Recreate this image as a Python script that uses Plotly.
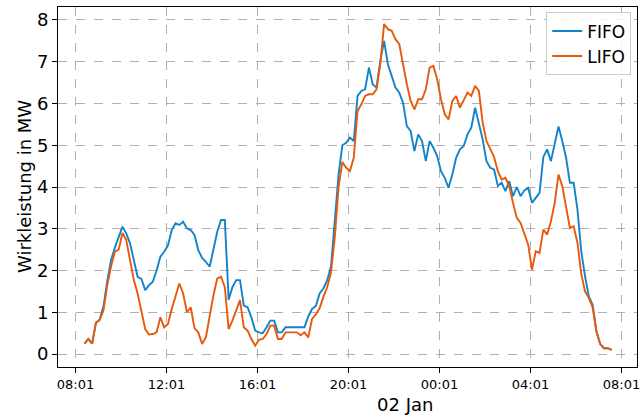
import pandas as pd
import plotly.graph_objects as go

start_time = "2024-01-01 08:25"
step_minutes = 10

fifo = [0.25, 0.36, 0.25, 0.75, 0.82, 1.15, 1.75, 2.25, 2.55, 2.8,
        3.05, 2.89, 2.65, 2.25, 1.85, 1.8, 1.53, 1.65, 1.73, 2.0,
        2.33, 2.45, 2.6, 2.97, 3.13, 3.09, 3.17, 3.01, 2.97, 2.85,
        2.49, 2.3, 2.21, 2.09, 2.49, 2.93, 3.21, 3.21, 1.3, 1.6,
        1.77, 1.77, 1.16, 1.12, 0.88, 0.56, 0.52, 0.5, 0.64, 0.8,
        0.8, 0.52, 0.52, 0.64, 0.64, 0.64, 0.64, 0.64, 0.64, 0.9,
        1.08, 1.15, 1.45, 1.57, 1.77, 2.1, 3.2, 4.3, 5.0, 5.06,
        5.18, 5.1, 6.18, 6.3, 6.34, 6.86, 6.46, 6.38, 7.02, 7.5,
        6.94, 6.66, 6.38, 6.26, 6.02, 5.46, 5.34, 4.86, 5.26, 5.1,
        4.62, 5.1, 4.94, 4.74, 4.38, 4.22, 3.98, 4.3, 4.7, 4.9,
        4.98, 5.26, 5.42, 5.9, 5.5, 5.14, 4.62, 4.46, 4.42, 4.03,
        4.1, 3.9, 4.14, 3.78, 4.0, 3.78, 3.92, 3.98, 3.62, 3.74,
        3.86, 4.72, 4.9, 4.62, 5.0, 5.45, 5.1, 4.7, 4.1, 4.1,
        3.46, 2.46, 1.86, 1.38, 1.18, 0.54, 0.24, 0.14, 0.14, 0.1]

lifo = [0.25, 0.36, 0.25, 0.75, 0.82, 1.05, 1.65, 2.1, 2.45, 2.5,
        2.9, 2.73, 2.25, 1.77, 1.45, 1.0, 0.6, 0.47, 0.48, 0.52,
        0.88, 0.64, 0.72, 1.08, 1.37, 1.69, 1.45, 1.0, 1.12, 0.62,
        0.52, 0.24, 0.4, 0.96, 1.41, 1.81, 1.85, 1.6, 0.6, 0.8,
        1.04, 1.29, 0.64, 0.56, 0.36, 0.2, 0.34, 0.36, 0.48, 0.68,
        0.68, 0.36, 0.36, 0.52, 0.52, 0.52, 0.52, 0.45, 0.52, 0.4,
        0.84, 0.95, 1.1, 1.37, 1.6, 1.95, 2.8, 4.0, 4.6, 4.46,
        4.38, 4.7, 5.82, 5.98, 6.18, 6.22, 6.22, 6.34, 6.94, 7.9,
        7.78, 7.74, 7.54, 7.42, 6.9, 6.46, 6.06, 5.86, 6.1, 6.1,
        6.34, 6.86, 6.9, 6.58, 6.1, 5.74, 5.62, 6.06, 6.18, 5.9,
        6.08, 6.26, 6.18, 6.42, 6.3, 5.54, 5.1, 4.9, 4.72, 4.38,
        4.18, 4.22, 4.02, 3.62, 3.26, 3.14, 2.86, 2.62, 2.02, 2.46,
        2.42, 2.98, 2.86, 3.18, 3.62, 4.3, 4.02, 3.54, 3.02, 3.06,
        2.66, 1.92, 1.5, 1.34, 1.12, 0.54, 0.24, 0.14, 0.14, 0.1]

tick_vals = ["2024-01-01 08:01", "2024-01-01 12:01", "2024-01-01 16:01",
             "2024-01-01 20:01", "2024-01-02 00:01", "2024-01-02 04:01",
             "2024-01-02 08:01"]
tick_text = ["08:01", "12:01", "16:01", "20:01", "00:01", "04:01", "08:01"]
y_ticks = [0, 1, 2, 3, 4, 5, 6, 7, 8]
x_title = "02 Jan"
y_title = "Wirkleistung in MW"

times = pd.date_range(start_time, periods=len(fifo), freq=f"{step_minutes}min")

font_family = "DejaVu Sans"
fig = go.Figure()
fig.add_trace(go.Scatter(x=times, y=fifo, mode="lines", name="FIFO",
                         line=dict(color="#1184c9", width=1.9)))
fig.add_trace(go.Scatter(x=times, y=lifo, mode="lines", name="LIFO",
                         line=dict(color="#e8590c", width=1.9)))

fig.update_layout(
    width=644, height=419,
    margin=dict(l=58, r=7, t=7, b=52),
    paper_bgcolor="white", plot_bgcolor="white",
    font=dict(family=font_family, color="black"),
    showlegend=True,
    legend=dict(x=0.99, y=0.985, xanchor="right", yanchor="top",
                bgcolor="rgba(255,255,255,0.85)", bordercolor="#cccccc",
                borderwidth=1, font=dict(size=17, family=font_family),
                tracegroupgap=2),
    annotations=[
        dict(text=x_title, xref="paper", yref="paper", x=0.6, y=-0.103,
             xanchor="center", yanchor="middle", showarrow=False,
             font=dict(size=18, family=font_family)),
        dict(text=y_title, xref="paper", yref="paper", x=-0.0587, y=0.5,
             xanchor="center", yanchor="middle", showarrow=False,
             textangle=-90, font=dict(size=18, family=font_family)),
    ],
)
fig.update_xaxes(
    range=["2024-01-01 07:15", "2024-01-02 08:42"],
    tickvals=tick_vals, ticktext=tick_text, automargin=False,
    tickfont=dict(size=13), ticks="outside", ticklen=5, tickcolor="black",
    showgrid=True, gridcolor="#b0b0b0", griddash="dash", gridwidth=1,
    showline=True, linecolor="black", linewidth=1, mirror=True,
    zeroline=False,
)
fig.update_yaxes(
    range=[-0.31, 8.31], tickvals=y_ticks, automargin=False,
    tickfont=dict(size=18), ticks="outside", ticklen=5, tickcolor="black",
    showgrid=True, gridcolor="#b0b0b0", griddash="dash", gridwidth=1,
    showline=True, linecolor="black", linewidth=1, mirror=True,
    zeroline=False,
)

fig.write_html("out.html", config={"displayModeBar": False},
               post_script="document.body.style.margin='0px';document.body.style.overflow='hidden';")
